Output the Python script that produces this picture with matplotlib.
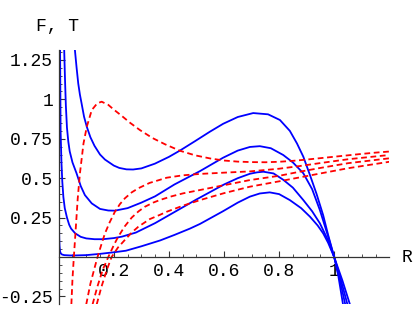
import numpy as np
import matplotlib
matplotlib.use("Agg")
import matplotlib.pyplot as plt
from matplotlib.ticker import FixedLocator, FuncFormatter

plt.rcParams['font.family'] = ['Liberation Mono', 'DejaVu Sans Mono']
plt.rcParams['font.size'] = 13

# F curves (solid blue)
f1_r = [0.001, 0.002, 0.003, 0.005, 0.008, 0.012, 0.02, 0.04, 0.06, 0.1, 0.15, 0.2, 0.244, 0.3,
        0.368, 0.42, 0.476, 0.513, 0.596, 0.65, 0.694, 0.73, 0.766, 0.8, 0.839, 0.88, 0.912,
        0.94, 0.96, 0.978, 1.0, 1.03, 1.057]
f1_v = [0.22, 0.12, 0.07, 0.035, 0.022, 0.016, 0.012, 0.01, 0.01, 0.012, 0.02, 0.03, 0.04, 0.068,
        0.105, 0.14, 0.18, 0.21, 0.29, 0.345, 0.383, 0.403, 0.41, 0.399, 0.361, 0.31, 0.256,
        0.2, 0.15, 0.09, 0.0, -0.15, -0.3]

f2_r = [0.005, 0.007, 0.01, 0.013, 0.017, 0.022, 0.03, 0.038, 0.045, 0.06, 0.08, 0.1, 0.13, 0.16,
        0.2, 0.229, 0.28, 0.35, 0.42, 0.5, 0.6, 0.65, 0.694, 0.72, 0.743, 0.78, 0.815, 0.85,
        0.888, 0.92, 0.948, 0.978, 1.0, 1.025, 1.048]
f2_v = [1.31, 0.79, 0.6, 0.48, 0.38, 0.31, 0.25, 0.205, 0.18, 0.15, 0.128, 0.118, 0.113, 0.113,
        0.12, 0.129, 0.155, 0.215, 0.285, 0.365, 0.46, 0.5, 0.528, 0.537, 0.541, 0.53, 0.49, 0.44,
        0.361, 0.29, 0.214, 0.105, 0.0, -0.15, -0.3]

f3_r = [0.02, 0.023, 0.026, 0.03, 0.035, 0.04, 0.05, 0.065, 0.08, 0.095, 0.12, 0.15, 0.18, 0.204,
        0.25, 0.3, 0.35, 0.42, 0.513, 0.597, 0.65, 0.694, 0.73, 0.77, 0.815, 0.85, 0.888, 0.92,
        0.948, 0.978, 1.0, 1.02, 1.04]
f3_v = [1.31, 1.12, 0.96, 0.82, 0.73, 0.67, 0.6, 0.53, 0.45, 0.393, 0.34, 0.305, 0.295, 0.294,
        0.31, 0.345, 0.385, 0.46, 0.545, 0.63, 0.675, 0.698, 0.703, 0.69, 0.647, 0.6, 0.531, 0.43,
        0.298, 0.13, 0.0, -0.14, -0.3]

f4_r = [0.059, 0.065, 0.071, 0.077, 0.083, 0.092, 0.102, 0.115, 0.13, 0.15, 0.168, 0.2, 0.22,
        0.246, 0.27, 0.3, 0.349, 0.4, 0.44, 0.495, 0.549, 0.597, 0.65, 0.706, 0.76, 0.803, 0.839,
        0.865, 0.888, 0.912, 0.936, 0.96, 0.978, 1.0, 1.015, 1.032]
f4_v = [1.31, 1.2, 1.1, 1.03, 0.975, 0.89, 0.826, 0.76, 0.705, 0.65, 0.618, 0.58, 0.565,
        0.556, 0.555, 0.562, 0.592, 0.635, 0.675, 0.735, 0.795, 0.845, 0.888, 0.913, 0.905, 0.869,
        0.8, 0.72, 0.636, 0.52, 0.4, 0.265, 0.14, 0.0, -0.12, -0.3]

# T curves (dashed red)
t1_r = [0.046, 0.05, 0.055, 0.06, 0.069, 0.077, 0.09, 0.102, 0.12, 0.14, 0.156, 0.18, 0.2, 0.229,
        0.26, 0.295, 0.34, 0.386, 0.44, 0.495, 0.55, 0.6, 0.65, 0.7, 0.75, 0.8, 0.85, 0.9, 0.95,
        1.0, 1.05, 1.1, 1.15, 1.2]
t1_v = [-0.3, -0.14, 0.0, 0.13, 0.37, 0.53, 0.72, 0.826, 0.932, 0.975, 0.985, 0.965, 0.935, 0.895,
        0.85, 0.805, 0.755, 0.715, 0.674, 0.645, 0.625, 0.612, 0.605, 0.602, 0.601, 0.604, 0.61,
        0.618, 0.627, 0.636, 0.645, 0.654, 0.662, 0.669]

t2_r = [0.1, 0.115, 0.13, 0.141, 0.155, 0.168, 0.185, 0.204, 0.222, 0.24, 0.265, 0.289, 0.33,
        0.368, 0.392, 0.45, 0.513, 0.6, 0.694, 0.8, 0.875, 0.95, 1.05, 1.2]
t2_v = [-0.3, -0.17, -0.07, 0.0, 0.08, 0.15, 0.22, 0.287, 0.335, 0.372, 0.41, 0.436, 0.47,
        0.49, 0.503, 0.518, 0.527, 0.535, 0.543, 0.56, 0.577, 0.596, 0.62, 0.647]

t3_r = [0.123, 0.14, 0.16, 0.18, 0.2, 0.216, 0.24, 0.265, 0.29, 0.313, 0.343, 0.368, 0.41, 0.452,
        0.513, 0.573, 0.694, 0.8, 0.875, 0.95, 1.05, 1.2]
t3_v = [-0.3, -0.19, -0.08, 0.0, 0.075, 0.129, 0.195, 0.25, 0.29, 0.319, 0.345, 0.362, 0.385,
        0.404, 0.425, 0.446, 0.488, 0.515, 0.541, 0.565, 0.595, 0.626]

t4_r = [0.138, 0.155, 0.175, 0.192, 0.215, 0.24, 0.265, 0.289, 0.33, 0.368, 0.392, 0.45, 0.513,
        0.6, 0.694, 0.8, 0.875, 0.95, 1.05, 1.2]
t4_v = [-0.3, -0.19, -0.08, 0.0, 0.06, 0.108, 0.155, 0.192, 0.24, 0.268, 0.287, 0.325, 0.361,
        0.405, 0.446, 0.48, 0.505, 0.53, 0.563, 0.604]

x_major = [0.2, 0.4, 0.6, 0.8, 1.0]
y_major = [-0.25, 0.25, 0.5, 0.75, 1.0, 1.25]

fig = plt.figure(figsize=(4.16, 3.19), dpi=100)
ax = fig.add_axes([0.1411, 0.047, 0.7947, 0.7963])

for r, v in [(f1_r, f1_v), (f2_r, f2_v), (f3_r, f3_v), (f4_r, f4_v)]:
    ax.plot(r, v, color=(0, 0, 1), lw=1.3)
for r, v in [(t1_r, t1_v), (t2_r, t2_v), (t3_r, t3_v), (t4_r, t4_v)]:
    ax.plot(r, v, color=(1, 0, 0), lw=1.3, dashes=(3.2, 2))

ax.set_xlim(0, 1.2)
ax.set_ylim(-0.298, 1.313)

for s in ['top', 'right']:
    ax.spines[s].set_visible(False)
ax.spines['left'].set_position(('data', 0))
ax.spines['bottom'].set_position(('data', 0))
for s in ['left', 'bottom']:
    ax.spines[s].set_linewidth(0.9)
    ax.spines[s].set_color('#333333')

x_minor = [round(0.05 * i, 2) for i in range(1, 24) if round(0.05 * i, 2) not in x_major]
y_minor = [round(0.05 * i, 2) for i in range(-5, 27) if round(0.05 * i, 2) not in y_major + [0.0]]
ax.xaxis.set_major_locator(FixedLocator(x_major))
ax.xaxis.set_minor_locator(FixedLocator(x_minor))
ax.yaxis.set_major_locator(FixedLocator(y_major))
ax.yaxis.set_minor_locator(FixedLocator(y_minor))
fmt = FuncFormatter(lambda v, p: ('%g' % v))
ax.xaxis.set_major_formatter(fmt)
ax.yaxis.set_major_formatter(fmt)

ax.tick_params(which='major', direction='in', length=4, width=0.8, color='#333333')
ax.tick_params(which='minor', direction='in', length=2.2, width=0.6, color='#333333')
ax.tick_params(axis='x', pad=4)
ax.tick_params(axis='y', pad=4)

fig.text(57.5 / 416, 1 - 27 / 319, 'F, T', ha='center', va='center')
fig.text(406.7 / 416, 1 - 257.5 / 319, 'R', ha='center', va='center')

fig.savefig('out.png', dpi=100)
